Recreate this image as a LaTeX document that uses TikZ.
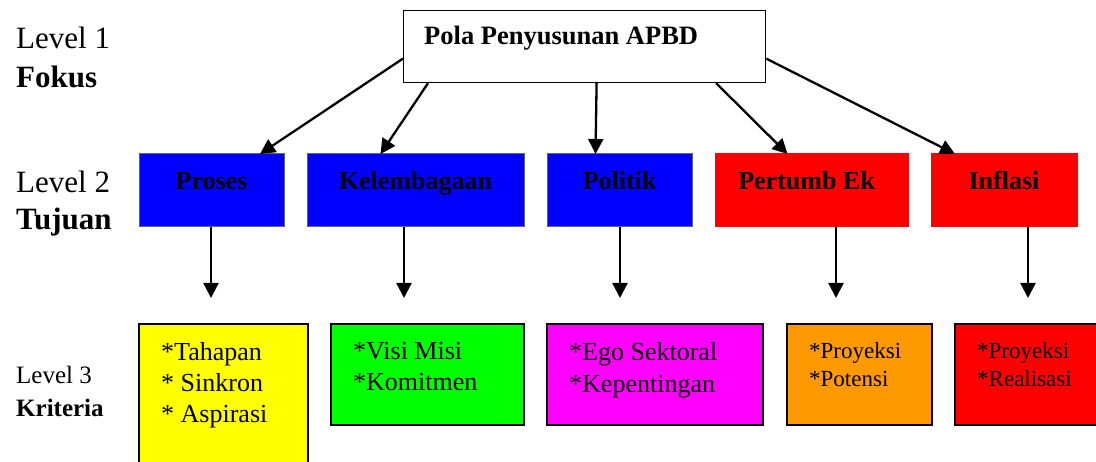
\documentclass[tikz,border=0pt]{standalone}
\usepackage{fontspec}
\setmainfont{Liberation Serif}
\usetikzlibrary{positioning,arrows.meta}
\definecolor{goalblue}{RGB}{0,0,255}
\definecolor{goalred}{RGB}{255,0,0}
\definecolor{crityellow}{RGB}{255,255,0}
\definecolor{critgreen}{RGB}{0,255,0}
\definecolor{critmagenta}{RGB}{255,0,255}
\definecolor{critorange}{RGB}{255,153,0}

\begin{document}
\begin{tikzpicture}
		[x=1pt,y=-1pt,
		level/.style={anchor=base west,inner sep=0pt,font=\fontsize{31}{37}\selectfont},
		levelsm/.style={anchor=base west,inner sep=0pt,font=\fontsize{25}{30}\selectfont},
		focus/.style={rectangle,draw=black,line width=1.2pt,fill=white,minimum width=362pt,minimum height=72pt},
		focustext/.style={anchor=base west,xshift=21pt,yshift=-35pt,inner sep=0pt,font=\fontsize{26.5}{32}\selectfont\bfseries},
		goal/.style={rectangle,draw=black!60,line width=1pt,outer sep=0pt,minimum height=73pt},
		goaltext/.style={anchor=base,yshift=-36pt,inner sep=0pt,font=\fontsize{26}{31}\selectfont\bfseries},
		crit/.style={rectangle,draw=black,line width=1.2pt,outer sep=0pt,minimum height=101pt},
		crittext/.style={anchor=north west,xshift=22pt,yshift=-18pt,inner sep=0pt,align=left,font=\fontsize{26}{31}\selectfont},
		crittextsm/.style={crittext,font=\fontsize{23}{28.5}\selectfont},
		arr/.style={line width=2.3pt,-{Triangle[length=15pt,width=15pt]}}]
		\useasboundingbox (0,0) rectangle (1096,462);
		\clip (0,0) rectangle (1096,462);

		% level names
		\node [level] (lv1) at (16,49) {Level 1};
		\node [level] (lv1b) at (16,88) {\bfseries Fokus};
		\node [level] (lv2) at (16,193) {Level 2};
		\node [level] (lv2b) at (16,230) {\bfseries Tujuan};
		\node [levelsm] (lv3) at (16,384) {Level 3};
		\node [levelsm] (lv3b) at (16,417) {\bfseries Kriteria};

		% level 1
		\node [focus,anchor=north west,label={[focustext]north west:Pola Penyusunan APBD}] (top) at (403,10) {};

		% level 2
		\node [goal,fill=goalblue,minimum width=145pt,anchor=north west,label={[goaltext]north:Proses}] (p1) at (139,154) {};
		\node [goal,fill=goalblue,minimum width=217pt,label={[goaltext]north:Kelembagaan}] (p2) [right=23pt of p1] {};
		\node [goal,fill=goalblue,minimum width=145pt,label={[goaltext]north:Politik}] (p3) [right=23pt of p2] {};
		\node [goal,fill=goalred,draw=goalred,minimum width=193pt,label={[goaltext,xshift=-5pt]north:Pertumb Ek}] (p4) [right=23pt of p3] {};
		\node [goal,fill=goalred,draw=goalred,minimum width=146pt,label={[goaltext]north:Inflasi}] (p5) [right=23pt of p4] {};

		% level 3
		\node [crit,fill=crityellow,minimum width=169pt,minimum height=160pt,anchor=north west,label={[crittext]north west:*Tahapan\\* Sinkron\\* Aspirasi}] (c1) at (139,324) {};
		\node [crit,fill=critgreen,minimum width=193pt,right=23pt of c1.north east,anchor=north west,label={[crittext]north west:*Visi Misi\\*Komitmen}] (c2) {};
		\node [crit,fill=critmagenta,minimum width=216pt,right=23pt of c2.north east,anchor=north west,label={[crittext,font=\fontsize{26}{32}\selectfont]north west:*Ego Sektoral\\*Kepentingan}] (c3) {};
		\node [crit,fill=critorange,minimum width=145pt,right=24pt of c3.north east,anchor=north west,label={[crittextsm]north west:*Proyeksi\\*Potensi}] (c4) {};
		\node [crit,fill=goalred,minimum width=160pt,right=23pt of c4.north east,anchor=north west,label={[crittextsm]north west:*Proyeksi\\*Realisasi}] (c5) {};

		% arrows from level 1
		\draw [arr] ([yshift=-12pt]top.west) -- ([xshift=-24pt]p1.north east);
		\draw [arr] ([xshift=25pt]top.south west) -- ([xshift=-35pt]p2.north);
		\draw [arr] ([xshift=12pt]top.south) -- ([xshift=-24pt]p3.north);
		\draw [arr] ([xshift=-50pt]top.south east) -- ([xshift=-24pt]p4.north);
		\draw [arr] ([yshift=-12pt]top.east) -- ([xshift=24pt]p5.north west);

		% arrows from level 2
		\coordinate (d1) at (211,298);
		\coordinate (d2) at (404,298);
		\coordinate (d3) at (620,298);
		\coordinate (d4) at (836,298);
		\coordinate (d5) at (1028,298);
		\draw [arr] (p1.south -| d1) -- (d1);
		\draw [arr] (p2.south -| d2) -- (d2);
		\draw [arr] (p3.south -| d3) -- (d3);
		\draw [arr] (p4.south -| d4) -- (d4);
		\draw [arr] (p5.south -| d5) -- (d5);

	\end{tikzpicture}
\end{document}
